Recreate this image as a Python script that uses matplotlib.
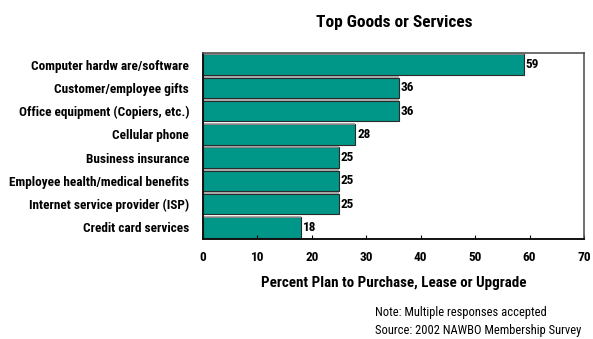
import matplotlib.pyplot as plt

categories = [
    "Computer hardw are/software",
    "Customer/employee gifts",
    "Office equipment (Copiers, etc.)",
    "Cellular phone",
    "Business insurance",
    "Employee health/medical benefits",
    "Internet service provider (ISP)",
    "Credit card services",
]
percents = [59, 36, 36, 28, 25, 25, 25, 18]
x_ticks = [0, 10, 20, 30, 40, 50, 60, 70]

plt.rcParams['font.family'] = ['Roboto Condensed', 'DejaVu Sans']
plt.rcParams['font.stretch'] = 'condensed'
plt.rcParams['font.weight'] = 'bold'

fig = plt.figure(figsize=(5.93, 3.39), dpi=100)
ax = fig.add_axes([0.3423, 0.295, 0.6425, 0.5487])

ypos = list(range(len(categories)))
bars = ax.barh(ypos, percents, height=0.88, color='#009688',
               edgecolor='#2a2a2a', linewidth=0.8)
# light strip along the top of each bar
for rect in bars:
    ax.plot([0, rect.get_width()], [rect.get_y() - 0.02] * 2,
            color='#9a9a9a', lw=1.2, solid_capstyle='butt')

for y, v in zip(ypos, percents):
    ax.text(v + 0.3, y, str(v), va='center', ha='left',
            fontsize=9.5, fontweight='bold')

ax.set_ylim(len(categories) - 0.5, -0.5)
ax.set_xlim(0, 70)
ax.set_xticks(x_ticks)
ax.set_xticklabels([str(t) for t in x_ticks], fontsize=9.5, fontweight='bold')
ax.set_yticks(ypos)
ax.set_yticklabels(categories, fontsize=9.5, fontweight='bold')
ax.tick_params(axis='x', direction='in', length=3, pad=9)
ax.tick_params(axis='y', length=0, pad=10)

for side in ['top', 'right']:
    ax.spines[side].set_color('#555555')
    ax.spines[side].set_linewidth(1.2)
for side in ['left', 'bottom']:
    ax.spines[side].set_color('#111111')
    ax.spines[side].set_linewidth(1.4)

ax.set_xlabel("Percent Plan to Purchase, Lease or Upgrade",
              fontsize=10.8, fontweight='bold', labelpad=8)
fig.text(0.664, 0.935, "Top Goods or Services", ha='center', va='center',
         fontsize=12.5, fontweight='bold')
fig.text(0.632, 0.078, "Note: Multiple responses accepted", fontsize=9,
         fontweight='normal', va='center')
fig.text(0.632, 0.025, "Source: 2002 NAWBO Membership Survey", fontsize=9,
         fontweight='normal', va='center')

fig.savefig("out.png", dpi=100)
